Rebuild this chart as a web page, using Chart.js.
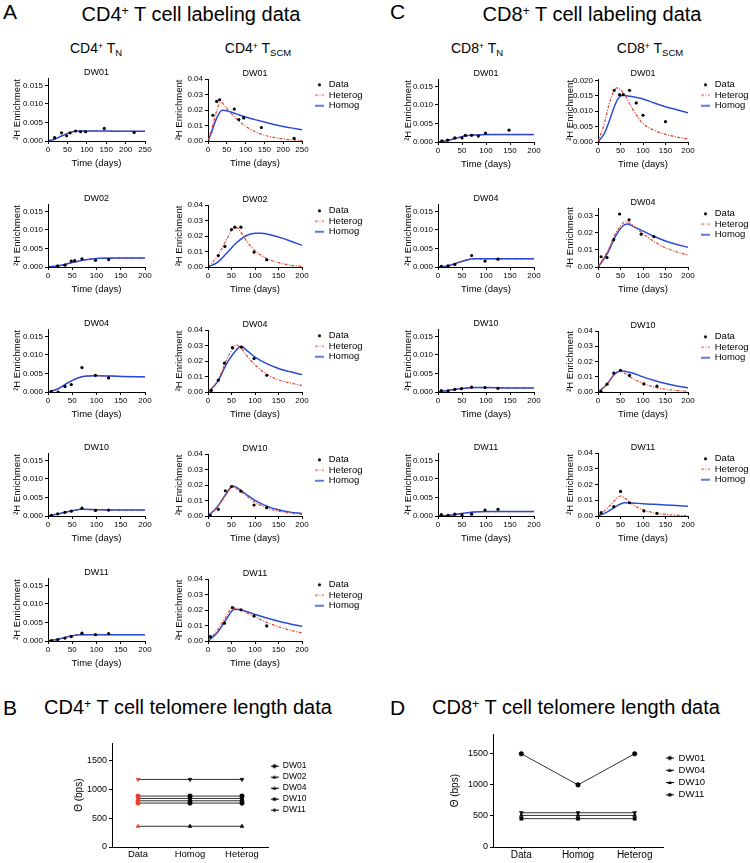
<!DOCTYPE html>
<html>
<head>
<meta charset="utf-8">
<script src="https://cdn.jsdelivr.net/npm/chart.js@4.4.1/dist/chart.umd.min.js"></script>
<style>
  body { margin: 0; background: #fff; }
  #fig { position: relative; width: 750px; height: 863px; overflow: hidden; background: #fff;
         font-family: 'Liberation Sans', Arial, sans-serif; color: #000; }
  #fig canvas { position: absolute; }
  .lbl { position: absolute; white-space: nowrap; line-height: 1; }
  .big { font-size: 21px; }
  .ttl { font-size: 20px; transform: translateX(-50%); }
  .col { font-size: 14px; transform: translateX(-50%); }
  .sup { font-size: 0.62em; position: relative; top: -0.5em; }
  .sub { font-size: 0.68em; position: relative; top: 0.3em; }
</style>
</head>
<body>
<div id="fig">
  <div class="lbl big" style="left:3px;top:1px">A</div>
  <div class="lbl ttl" style="left:191px;top:4px">CD4<span class="sup">+</span> T cell labeling data</div>
  <div class="lbl col" style="left:96px;top:41px">CD4<span class="sup">+</span> T<span class="sub">N</span></div>
  <div class="lbl col" style="left:258px;top:41px">CD4<span class="sup">+</span> T<span class="sub">SCM</span></div>

  <div class="lbl big" style="left:390px;top:1px">C</div>
  <div class="lbl ttl" style="left:592px;top:4px">CD8<span class="sup">+</span> T cell labeling data</div>
  <div class="lbl col" style="left:477px;top:41px">CD8<span class="sup">+</span> T<span class="sub">N</span></div>
  <div class="lbl col" style="left:650px;top:41px">CD8<span class="sup">+</span> T<span class="sub">SCM</span></div>

  <div class="lbl big" style="left:3px;top:697px">B</div>
  <div class="lbl ttl" style="left:188px;top:697px">CD4<span class="sup">+</span> T cell telomere length data</div>
  <div class="lbl big" style="left:390px;top:697px">D</div>
  <div class="lbl ttl" style="left:576px;top:697px">CD8<span class="sup">+</span> T cell telomere length data</div>
</div>

<script>
// ---- CD4+ TN : [day, 2H enrichment] ----
const cd4TN_DW01_data = [[0,0],[17,0.0009],[35,0.0022],[48,0.0014],[57,0.0022],[71,0.0027],[84,0.0025],[97,0.0025],[145,0.0034],[222,0.0023]];
const cd4TN_DW01_fit  = [[0,0],[15,0.0004],[30,0.0011],[45,0.0018],[60,0.0024],[75,0.0027],[100,0.0027],[150,0.0027],[200,0.0026],[250,0.0026]];
const cd4TN_DW02_data = [[0,0],[20,0.0003],[35,0.0005],[48,0.0016],[55,0.0017],[70,0.0022],[98,0.0018],[125,0.0020]];
const cd4TN_DW02_fit  = [[0,0],[25,0.0004],[50,0.0012],[75,0.0019],[100,0.0023],[150,0.0024],[200,0.0024]];
const cd4TN_DW04_data = [[0,0],[7,0.0002],[21,0.0000],[35,0.0015],[48,0.0020],[70,0.0066],[98,0.0045],[125,0.0038]];
const cd4TN_DW04_fit  = [[0,0],[20,0.0008],[40,0.0024],[60,0.0037],[80,0.0043],[100,0.0044],[150,0.0042],[200,0.0041]];
const cd4TN_DW10_data = [[0,0],[7,0.0002],[20,0.0006],[35,0.0010],[48,0.0013],[70,0.0021],[98,0.0015],[125,0.0016]];
const cd4TN_DW10_fit  = [[0,0],[25,0.0007],[50,0.0014],[70,0.0018],[100,0.0017],[150,0.0016],[200,0.0016]];
const cd4TN_DW11_data = [[0,0],[7,0.0001],[20,0.0004],[35,0.0008],[48,0.0012],[70,0.0021],[98,0.0017],[125,0.0020]];
const cd4TN_DW11_fit  = [[0,0],[25,0.0006],[50,0.0014],[65,0.0017],[100,0.0017],[150,0.0017],[200,0.0017]];

// ---- CD4+ TSCM ----
const cd4SCM_DW01_data    = [[0,0],[13,0.0166],[23,0.0255],[31,0.0266],[70,0.0206],[82,0.0138],[95,0.0149],[142,0.0087],[229,0.0017]];
const cd4SCM_DW01_heterog = [[0,0],[10,0.008],[20,0.017],[30,0.024],[35,0.025],[45,0.0225],[60,0.018],[75,0.0145],[100,0.0095],[125,0.006],[150,0.0038],[175,0.0023],[200,0.0013],[225,0.0007],[250,0.0003]];
const cd4SCM_DW01_homog   = [[0,0],[10,0.006],[20,0.013],[30,0.018],[38,0.0198],[50,0.0195],[75,0.0175],[100,0.0155],[125,0.0138],[150,0.0122],[175,0.0107],[200,0.0094],[225,0.0083],[250,0.0073]];
const cd4SCM_DW02_data    = [[0,0],[22,0.0074],[36,0.0133],[50,0.0242],[57,0.0257],[70,0.0257],[98,0.0096],[125,0.0046]];
const cd4SCM_DW02_heterog = [[0,0],[20,0.007],[40,0.018],[55,0.025],[62,0.0252],[70,0.0225],[85,0.0155],[100,0.0105],[125,0.0055],[150,0.0028],[175,0.0012],[200,0.0004]];
const cd4SCM_DW02_homog   = [[0,0],[20,0.003],[40,0.009],[60,0.0155],[80,0.0200],[100,0.0218],[115,0.0218],[125,0.0213],[150,0.0193],[175,0.0168],[200,0.0140]];
const cd4SCM_DW04_data    = [[0,0],[7,0.001],[22,0.0076],[35,0.0186],[52,0.0286],[71,0.029],[98,0.0216],[125,0.0108]];
const cd4SCM_DW04_heterog = [[0,0],[20,0.007],[40,0.021],[55,0.029],[60,0.0305],[68,0.029],[85,0.0225],[100,0.0175],[125,0.0115],[150,0.0078],[175,0.0058],[200,0.0042]];
const cd4SCM_DW04_homog   = [[0,0],[20,0.0065],[40,0.0185],[60,0.027],[70,0.0293],[85,0.0262],[100,0.0225],[125,0.0183],[150,0.0152],[175,0.013],[200,0.0112]];
const cd4SCM_DW10_data    = [[0,0],[5,0.0002],[22,0.0043],[37,0.0163],[50,0.0190],[70,0.016],[98,0.0071],[125,0.0054]];
const cd4SCM_DW10_heterog = [[0,0],[20,0.0058],[40,0.0145],[52,0.0188],[60,0.0178],[70,0.0158],[85,0.0122],[100,0.0088],[125,0.0052],[150,0.0031],[175,0.0019],[200,0.0011]];
const cd4SCM_DW10_homog   = [[0,0],[20,0.006],[40,0.015],[52,0.0194],[60,0.0186],[70,0.0166],[85,0.0132],[100,0.0101],[125,0.0064],[150,0.004],[175,0.0025],[200,0.0016]];
const cd4SCM_DW11_data    = [[0,0],[5,0.0028],[35,0.0115],[52,0.0216],[70,0.0201],[98,0.0162],[125,0.0097]];
const cd4SCM_DW11_heterog = [[0,0],[20,0.007],[40,0.0165],[52,0.0212],[60,0.021],[70,0.0198],[85,0.0178],[100,0.0155],[125,0.012],[150,0.0092],[175,0.007],[200,0.0052]];
const cd4SCM_DW11_homog   = [[0,0],[20,0.0055],[40,0.0145],[55,0.0203],[65,0.0204],[80,0.0192],[100,0.0172],[125,0.0148],[150,0.0127],[175,0.011],[200,0.0095]];

// ---- CD8+ TN ----
const cd8TN_DW01_data = [[0,0],[8,0.0003],[20,0.0005],[35,0.0011],[50,0.0011],[57,0.0018],[70,0.0018],[84,0.0016],[99,0.0024],[148,0.0032]];
const cd8TN_DW01_fit  = [[0,0],[20,0.0004],[40,0.0011],[60,0.0017],[80,0.0019],[100,0.002],[150,0.002],[200,0.002]];
const cd8TN_DW04_data = [[0,0],[7,0.0002],[21,0.0003],[35,0.0007],[70,0.0031],[98,0.0016],[125,0.0021]];
const cd8TN_DW04_fit  = [[0,0],[20,0.0003],[40,0.0011],[60,0.0019],[75,0.0022],[100,0.0022],[150,0.0022],[200,0.0022]];
const cd8TN_DW10_data = [[0,0],[7,0.0004],[21,0.0003],[35,0.0007],[49,0.0009],[70,0.0013],[98,0.0012],[125,0.0010]];
const cd8TN_DW10_fit  = [[0,0],[20,0.0004],[40,0.0008],[60,0.0011],[75,0.0012],[100,0.0012],[150,0.0011],[200,0.0011]];
const cd8TN_DW11_data = [[0,0],[7,0.0004],[21,0.0002],[35,0.0005],[50,0.0003],[70,0.0005],[98,0.0016],[125,0.0018]];
const cd8TN_DW11_fit  = [[0,0],[25,0.0002],[50,0.0007],[75,0.0011],[100,0.0012],[150,0.0012],[200,0.0012]];

// ---- CD8+ TSCM ----
const cd8SCM_DW01_data    = [[0,0],[36,0.0168],[48,0.0154],[56,0.0154],[70,0.0168],[85,0.0127],[100,0.0087],[150,0.0066]];
const cd8SCM_DW01_heterog = [[0,0],[15,0.0065],[25,0.0125],[35,0.0165],[42,0.0176],[50,0.017],[60,0.0152],[75,0.0112],[90,0.0078],[100,0.006],[125,0.0038],[150,0.0025],[175,0.0016],[200,0.001]];
const cd8SCM_DW01_homog   = [[0,0],[15,0.003],[25,0.0068],[35,0.011],[45,0.0142],[55,0.0152],[70,0.0149],[100,0.014],[125,0.0127],[150,0.0115],[175,0.0105],[200,0.0095]];
const cd8SCM_DW04_data    = [[0,0],[7,0.006],[20,0.0055],[35,0.016],[48,0.031],[69,0.0276],[96,0.0192],[124,0.0178]];
const cd8SCM_DW04_heterog = [[0,0],[20,0.0085],[40,0.02],[55,0.0255],[63,0.0265],[75,0.0248],[100,0.0195],[125,0.0148],[150,0.0113],[175,0.0088],[200,0.007]];
const cd8SCM_DW04_homog   = [[0,0],[20,0.0075],[40,0.0185],[55,0.024],[65,0.0252],[80,0.0235],[100,0.021],[125,0.0178],[150,0.0152],[175,0.0132],[200,0.0115]];
const cd8SCM_DW10_data    = [[0,0],[7,0.0003],[20,0.0051],[35,0.0124],[50,0.0142],[70,0.0109],[102,0.0053],[131,0.0038]];
const cd8SCM_DW10_heterog = [[0,0],[20,0.005],[35,0.0112],[50,0.0136],[60,0.0122],[75,0.0092],[100,0.0056],[125,0.0032],[150,0.0018],[175,0.001],[200,0.0005]];
const cd8SCM_DW10_homog   = [[0,0],[20,0.005],[35,0.0112],[52,0.0138],[60,0.0136],[80,0.0121],[100,0.0099],[125,0.0076],[150,0.0056],[175,0.004],[200,0.0028]];
const cd8SCM_DW11_data    = [[0,0],[7,0.0021],[35,0.0059],[50,0.0156],[70,0.0084],[102,0.0032],[131,0.0017]];
const cd8SCM_DW11_heterog = [[0,0],[20,0.0048],[35,0.0092],[50,0.0127],[60,0.0113],[75,0.0077],[100,0.0039],[125,0.002],[150,0.001],[175,0.0005],[200,0.0002]];
const cd8SCM_DW11_homog   = [[0,0],[20,0.0025],[35,0.0052],[50,0.0076],[60,0.0084],[75,0.0083],[100,0.0078],[125,0.0074],[150,0.007],[175,0.0066],[200,0.0062]];

// ---- tick labels ----
const dayTicks200 = [0, 50, 100, 150, 200];
const dayTicks250 = [0, 50, 100, 150, 200, 250];
const tnTicks = [0, 0.005, 0.010, 0.015];
const scmTicks = [0, 0.01, 0.02, 0.03, 0.04];
const cd8ScmDW01Ticks = [0, 0.005, 0.010, 0.015, 0.020];
const cd8ScmDW04Ticks = [0, 0.01, 0.02, 0.03];
const teloTicks = [0, 500, 1000, 1500];

// ---- telomere length (bps), order: Data, Homog, Heterog ----
const teloCats = ["Data", "Homog", "Heterog"];
const cd4Telo_DW01 = [885, 885, 885];
const cd4Telo_DW02 = [1174, 1174, 1174];
const cd4Telo_DW04 = [360, 360, 360];
const cd4Telo_DW10 = [843, 843, 843];
const cd4Telo_DW11 = [803, 803, 803];
const cd4Telo_extra = [763, 763, 763];
const cd8Telo_DW01 = [1490, 993, 1490];
const cd8Telo_DW04 = [548, 548, 548];
const cd8Telo_DW10 = [505, 505, 505];
const cd8Telo_DW11 = [453, 453, 453];

// ===== drawing =====
const RED = "#e3432b";
const BLUE = "#2b4bd6";
const FAMILY = "'Liberation Sans', Arial, sans-serif";
Chart.defaults.font.family = FAMILY;
Chart.defaults.color = "#000";

const fig = document.getElementById("fig");
const measureCtx = document.createElement("canvas").getContext("2d");

// the layout caps a side legend at a quarter of the canvas; give it the width it needs
const legendWidthFix = {
  id: "legendWidthFix",
  beforeLayout(chart, args, opts) {
    const lg = chart.legend;
    if (!lg || lg._widthFixed || !opts.width) return;
    const fit = lg.fit.bind(lg);
    lg.fit = () => { fit(); if (lg.options.display) lg.width = opts.width; };
    lg._widthFixed = true;
  }
};

function addCanvas(left, top, w, h) {
  const c = document.createElement("canvas");
  c.width = w; c.height = h;
  c.style.left = left + "px"; c.style.top = top + "px";
  c.style.width = w + "px"; c.style.height = h + "px";
  fig.appendChild(c);
  return c;
}

function legendWidth(texts, size, boxW, pad) {
  measureCtx.font = size + "px " + FAMILY;
  const widest = Math.max(...texts.map(t => measureCtx.measureText(t).width));
  return Math.ceil(pad + boxW + size / 2 + widest + 4);
}

function glyph(w, h, paint) {
  const c = document.createElement("canvas");
  c.width = w; c.height = h;
  paint(c.getContext("2d"));
  return c;
}

const curveGlyphs = {
  Data: glyph(21, 6, g => { g.fillStyle = "#000"; g.beginPath(); g.arc(16.5, 3, 1.6, 0, Math.PI * 2); g.fill(); }),
  Heterog: glyph(21, 6, g => { g.strokeStyle = RED; g.lineWidth = 1.2; g.setLineDash([3, 1.5, 1, 1.5]); g.beginPath(); g.moveTo(12, 3); g.lineTo(21, 3); g.stroke(); }),
  Homog: glyph(21, 6, g => { g.strokeStyle = BLUE; g.lineWidth = 1.5; g.beginPath(); g.moveTo(12, 3); g.lineTo(21, 3); g.stroke(); })
};

function shapePath(g, shape, x, y, r) {
  g.beginPath();
  if (shape === "circle") g.arc(x, y, r, 0, Math.PI * 2);
  else if (shape === "down") { g.moveTo(x - r, y - r * 0.8); g.lineTo(x + r, y - r * 0.8); g.lineTo(x, y + r); }
  else if (shape === "up") { g.moveTo(x - r, y + r * 0.8); g.lineTo(x + r, y + r * 0.8); g.lineTo(x, y - r); }
  else if (shape === "rect") g.rect(x - r * 0.8, y - r * 0.8, r * 1.6, r * 1.6);
  else { g.moveTo(x, y - r); g.lineTo(x + r, y); g.lineTo(x, y + r); g.lineTo(x - r, y); }
  g.closePath();
}

function markerGlyph(shape) {
  return glyph(8, 7, g => {
    g.strokeStyle = "#000"; g.lineWidth = 1;
    g.beginPath(); g.moveTo(0, 3.5); g.lineTo(8, 3.5); g.stroke();
    g.fillStyle = "#000"; shapePath(g, shape, 4, 3.5, 2); g.fill();
  });
}

const pts = a => a.map(p => ({ x: p[0], y: p[1] }));
const useTicks = vals => s => { s.ticks = vals.map(v => ({ value: v })); };

function axisCommon() {
  return {
    grid: { drawOnChartArea: false, tickLength: 3, color: "#000", lineWidth: 1 },
    border: { color: "#000", width: 1 }
  };
}

// one labeling panel; plot = [left, top, right, bottom] of the plot area
function enrichChart(o) {
  const [pl, pt, pr, pb] = o.plot;
  const titleH = 10, xH = 30;
  const scm = !!o.legend;
  const legFont = 9.5, legBox = 21, legPad = 1;
  const legW = scm ? legendWidth(["Data", "Heterog", "Homog"], legFont, legBox, legPad) : 0;
  const canvas = addCanvas(pl - o.yW, pt - titleH, o.yW + (pr - pl) + (scm ? legW : 8), titleH + (pb - pt) + xH);
  new Chart(canvas, {
    type: "line",
    plugins: [legendWidthFix],
    data: {
      datasets: [
        { label: "Data", data: pts(o.data), showLine: false, pointRadius: 1.6, pointHoverRadius: 1.6,
          pointBackgroundColor: "#000", pointBorderWidth: 0, order: 0 },
        { label: "Heterog", data: pts(o.heterog), borderColor: RED, borderWidth: 1.2, borderDash: [3, 1.5, 1, 1.5],
          pointRadius: 0, cubicInterpolationMode: "monotone", order: scm ? 1 : 2 },
        { label: "Homog", data: pts(o.homog), borderColor: BLUE, borderWidth: 1.5,
          pointRadius: 0, cubicInterpolationMode: "monotone", order: scm ? 2 : 1 }
      ]
    },
    options: {
      responsive: false, animation: false, devicePixelRatio: 1,
      layout: { padding: { right: scm ? 0 : 8, top: 0, bottom: 0, left: 0 } },
      plugins: {
        legendWidthFix: { width: legW },
        tooltip: { enabled: false },
        title: { display: true, text: o.title, fullSize: false, color: "#000",
                 font: { size: 9, weight: "normal", lineHeight: 1 }, padding: { top: 0, bottom: 1 } },
        legend: {
          display: scm, position: "right", align: "start", fullSize: false,
          labels: {
            usePointStyle: true, pointStyleWidth: legBox, padding: legPad, color: "#000",
            font: { size: legFont },
            generateLabels: chart => Chart.defaults.plugins.legend.labels.generateLabels(chart)
              .map(it => Object.assign(it, { pointStyle: curveGlyphs[it.text] }))
          }
        }
      },
      scales: {
        x: Object.assign(axisCommon(), {
          type: "linear", min: 0, max: o.xMax,
          afterFit: s => { s.height = xH; },
          afterBuildTicks: useTicks(o.xTicks),
          ticks: { autoSkip: false, font: { size: 8 }, padding: 1, maxRotation: 0, color: "#000" },
          title: { display: true, text: "Time (days)", font: { size: 9.5 }, padding: { top: 0, bottom: 2 } }
        }),
        y: Object.assign(axisCommon(), {
          min: 0, max: o.yMax,
          afterFit: s => { s.width = o.yW; },
          afterBuildTicks: useTicks(o.yTicks),
          ticks: { autoSkip: false, font: { size: 8 }, padding: 2, color: "#000",
                   callback: v => Number(v).toFixed(o.dec) },
          title: { display: true, text: "²H Enrichment", font: { size: 9.5 }, padding: 0 }
        })
      }
    }
  });
}

function teloChart(o) {
  const [pl, pt, pr, pb] = o.plot;
  const padT = 6, xH = 16, legBox = 8;
  const legW = legendWidth(o.series.map(s => s.label), o.legFont, legBox, o.legPad);
  const canvas = addCanvas(pl - o.yW, pt - padT, o.yW + (pr - pl) + legW, padT + (pb - pt) + xH);
  const glyphs = o.series.map(s => markerGlyph(s.shape));
  new Chart(canvas, {
    type: "line",
    plugins: [legendWidthFix],
    data: {
      labels: teloCats,
      datasets: o.series.map(s => ({
        label: s.label, data: s.values, borderColor: "#333", borderWidth: 1,
        pointStyle: s.shape === "down" || s.shape === "up" ? "triangle" : (s.shape === "diamond" ? "rectRot" : s.shape),
        pointRotation: s.shape === "down" ? 180 : 0,
        pointRadius: 2.3, pointHoverRadius: 2.3, pointBorderWidth: 0.5,
        pointBackgroundColor: s.values.map((v, j) => j === 0 ? o.dataColor : "#000"),
        pointBorderColor: s.values.map((v, j) => j === 0 ? o.dataColor : "#000")
      }))
    },
    options: {
      responsive: false, animation: false, devicePixelRatio: 1,
      layout: { padding: { right: 0, top: padT, bottom: 0, left: 0 } },
      plugins: {
        legendWidthFix: { width: legW },
        tooltip: { enabled: false },
        legend: {
          position: "right", align: "start", fullSize: false,
          title: { display: true, text: " ", font: { size: 10, lineHeight: 1.2 }, padding: { top: 4, bottom: 0 } },
          labels: {
            usePointStyle: true, pointStyleWidth: legBox, padding: o.legPad, color: "#000",
            font: { size: o.legFont },
            filter: it => it.text !== "",
            generateLabels: chart => Chart.defaults.plugins.legend.labels.generateLabels(chart)
              .map(it => Object.assign(it, { pointStyle: glyphs[it.datasetIndex] }))
          }
        }
      },
      scales: {
        x: Object.assign(axisCommon(), {
          offset: true,
          afterFit: s => { s.height = xH; },
          grid: { drawOnChartArea: false, tickLength: 2, color: "#000", offset: false },
          ticks: { font: { size: o.xFont }, padding: 0, color: "#000" }
        }),
        y: Object.assign(axisCommon(), {
          min: 0, max: 1800,
          afterFit: s => { s.width = o.yW; },
          afterBuildTicks: useTicks(teloTicks),
          ticks: { autoSkip: false, font: { size: 9 }, padding: 2, color: "#000", callback: v => String(v) },
          title: { display: true, text: "Θ (bps)", font: { size: 10 }, padding: 0 }
        })
      }
    }
  });
}

// ---- panel A ----
const aRows = [141, 267, 392, 516, 641];
const aTN = [
  ["DW01", cd4TN_DW01_data, cd4TN_DW01_fit, 250, dayTicks250],
  ["DW02", cd4TN_DW02_data, cd4TN_DW02_fit, 200, dayTicks200],
  ["DW04", cd4TN_DW04_data, cd4TN_DW04_fit, 200, dayTicks200],
  ["DW10", cd4TN_DW10_data, cd4TN_DW10_fit, 200, dayTicks200],
  ["DW11", cd4TN_DW11_data, cd4TN_DW11_fit, 200, dayTicks200]
];
aTN.forEach((r, i) => enrichChart({
  plot: [48, aRows[i] - 63, 145, aRows[i]], yW: 36, title: r[0],
  data: r[1], heterog: r[2], homog: r[2], xMax: r[3], xTicks: r[4],
  yMax: 0.017, yTicks: tnTicks, dec: 3
}));
const aSCM = [
  ["DW01", cd4SCM_DW01_data, cd4SCM_DW01_heterog, cd4SCM_DW01_homog, 250, dayTicks250],
  ["DW02", cd4SCM_DW02_data, cd4SCM_DW02_heterog, cd4SCM_DW02_homog, 200, dayTicks200],
  ["DW04", cd4SCM_DW04_data, cd4SCM_DW04_heterog, cd4SCM_DW04_homog, 200, dayTicks200],
  ["DW10", cd4SCM_DW10_data, cd4SCM_DW10_heterog, cd4SCM_DW10_homog, 200, dayTicks200],
  ["DW11", cd4SCM_DW11_data, cd4SCM_DW11_heterog, cd4SCM_DW11_homog, 200, dayTicks200]
];
aSCM.forEach((r, i) => enrichChart({
  plot: [208, aRows[i] - 62, 302, aRows[i]], yW: 34, title: r[0], legend: true,
  data: r[1], heterog: r[2], homog: r[3], xMax: r[4], xTicks: r[5],
  yMax: 0.04, yTicks: scmTicks, dec: 2
}));

// ---- panel C ----
const cRows = [142, 267, 392, 516];
const cTN = [
  ["DW01", cd8TN_DW01_data, cd8TN_DW01_fit],
  ["DW04", cd8TN_DW04_data, cd8TN_DW04_fit],
  ["DW10", cd8TN_DW10_data, cd8TN_DW10_fit],
  ["DW11", cd8TN_DW11_data, cd8TN_DW11_fit]
];
cTN.forEach((r, i) => enrichChart({
  plot: [438, cRows[i] - 63, 534, cRows[i]], yW: 35, title: r[0],
  data: r[1], heterog: r[2], homog: r[2], xMax: 200, xTicks: dayTicks200,
  yMax: 0.017, yTicks: tnTicks, dec: 3
}));
const cSCM = [
  ["DW01", cd8SCM_DW01_data, cd8SCM_DW01_heterog, cd8SCM_DW01_homog, 79, 0.0205, cd8ScmDW01Ticks, 3],
  ["DW04", cd8SCM_DW04_data, cd8SCM_DW04_heterog, cd8SCM_DW04_homog, 208, 0.0345, cd8ScmDW04Ticks, 2],
  ["DW10", cd8SCM_DW10_data, cd8SCM_DW10_heterog, cd8SCM_DW10_homog, 331, 0.04, scmTicks, 2],
  ["DW11", cd8SCM_DW11_data, cd8SCM_DW11_heterog, cd8SCM_DW11_homog, 453, 0.04, scmTicks, 2]
];
cSCM.forEach((r, i) => enrichChart({
  plot: [598, r[4], 688, cRows[i]], yW: 33, title: r[0], legend: true,
  data: r[1], heterog: r[2], homog: r[3], xMax: 200, xTicks: dayTicks200,
  yMax: r[5], yTicks: r[6], dec: r[7]
}));

// ---- panels B and D ----
teloChart({
  plot: [112, 742, 268, 847], yW: 39, dataColor: RED, legFont: 8.5, legPad: 2.5, xFont: 9.5,
  series: [
    { label: "DW01", values: cd4Telo_DW01, shape: "circle" },
    { label: "DW02", values: cd4Telo_DW02, shape: "down" },
    { label: "DW04", values: cd4Telo_DW04, shape: "up" },
    { label: "DW10", values: cd4Telo_DW10, shape: "rect" },
    { label: "DW11", values: cd4Telo_DW11, shape: "diamond" },
    { label: "", values: cd4Telo_extra, shape: "circle" }
  ]
});
teloChart({
  plot: [493, 733, 663, 847], yW: 44, dataColor: "#000", legFont: 9.5, legPad: 2.8, xFont: 10,
  series: [
    { label: "DW01", values: cd8Telo_DW01, shape: "circle" },
    { label: "DW04", values: cd8Telo_DW04, shape: "down" },
    { label: "DW10", values: cd8Telo_DW10, shape: "up" },
    { label: "DW11", values: cd8Telo_DW11, shape: "rect" }
  ]
});
</script>
</body>
</html>
